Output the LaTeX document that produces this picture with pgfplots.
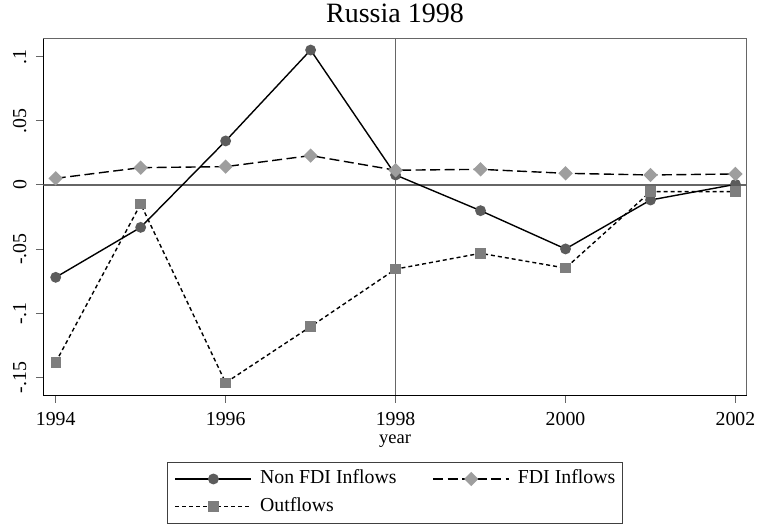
\documentclass[border=0pt]{standalone}
\usepackage{fontspec}
\setmainfont{Liberation Serif}
\usepackage{pgfplots}
\pgfplotsset{compat=1.18}
\definecolor{c1}{HTML}{5C5C5C}
\definecolor{c2}{HTML}{9E9E9E}
\definecolor{c3}{HTML}{7E7E7E}
\definecolor{refgray}{HTML}{666666}
\newcommand{\fs}{\fontsize{19.8bp}{19.8bp}\selectfont}
\begin{document}
\begin{tikzpicture}
\path[use as bounding box] (0,0) rectangle (759bp,528bp);
\begin{axis}[
  at={(43.3bp,133bp)}, anchor=south west,
  scale only axis, width=703.4bp, height=356.7bp,
  xmin=1993.854, xmax=2002.132, ymin=-0.16355, ymax=0.11425,
  axis x line=bottom, axis y line=left,
  axis line style={-, black, line width=1bp},
  tick align=outside, major tick length=7.5bp,
  tick style={refgray, line width=1bp},
  xtick={1994,1996,1998,2000,2002},
  xticklabels={1994,1996,1998,2000,2002},
  ytick={-0.15,-0.1,-0.05,0,0.05,0.1},
  yticklabels={-.15,-.1,-.05,0,.05,.1},
  xticklabel style={font=\fs, anchor=base, inner sep=0pt, yshift=-22.5bp},
  yticklabel style={font=\fs, xshift=-9.1bp, rotate=90, anchor=south, inner sep=0pt},
  title={Russia 1998},
  title style={at={(axis description cs:0.5,1)}, anchor=base, yshift=10.3bp, font=\fontsize{28bp}{28bp}\selectfont, inner sep=0pt},
  xlabel={year},
  xlabel style={at={(axis description cs:0.5,0)}, anchor=base, yshift=-48bp, font=\fontsize{18.5bp}{18.5bp}\selectfont, inner sep=0pt},
  legend columns=2,
  legend image code/.code={\draw[mark repeat=2,mark phase=2,#1] plot coordinates {(0bp,0bp) (38bp,0bp) (76bp,0bp)};},
  legend style={at={(axis description cs:0.5,-0.1878)}, anchor=north,
    draw=black!75, line width=1bp, inner xsep=7bp, inner ysep=8bp,
    font=\fs,
    nodes={inner sep=0pt, text height=13bp, text depth=4bp, anchor=west},
    /tikz/every odd column/.append style={column sep=8bp},
    /tikz/every even column/.append style={column sep=36bp},
    row sep=10.7bp},
  after end axis/.code={\draw[refgray, line width=1bp] (rel axis cs:0,1) -- (rel axis cs:1,1) -- (rel axis cs:1,0);},
]
\addplot[refgray, line width=1.5bp, forget plot] coordinates {(1993.854,0) (2002.132,0)};
\addplot[refgray, line width=1.5bp, forget plot] coordinates {(1998,-0.16355) (1998,0.11425)};

\addplot[black, line width=1.4bp, mark=*, mark size=4.7bp, mark options={solid, fill=c1, draw=c1}] coordinates {
(1994,-0.0719) (1995,-0.0330) (1996,0.0343) (1997,0.1051) (1998,0.0078)
(1999,-0.0200) (2000,-0.0498) (2001,-0.0117) (2002,0.0005)};
\addlegendentry{Non FDI Inflows}

\addplot[black, line width=1.4bp, dash pattern=on 10bp off 4.5bp, mark=square*, mark size=4.4bp, mark options={solid, rotate=45, fill=c2, draw=c2}] coordinates {
(1994,0.0052) (1995,0.0135) (1996,0.0143) (1997,0.0229) (1998,0.0115)
(1999,0.0122) (2000,0.0091) (2001,0.0078) (2002,0.0086)};
\addlegendentry{FDI Inflows}

\addplot[black, line width=1.4bp, dash pattern=on 4bp off 3bp, mark=square*, mark size=4.5bp, mark options={solid, fill=c3, draw=c3}] coordinates {
(1994,-0.1381) (1995,-0.0148) (1996,-0.1540) (1997,-0.1103) (1998,-0.0655)
(1999,-0.0532) (2000,-0.0647) (2001,-0.0052) (2002,-0.0052)};
\addlegendentry{Outflows}
\end{axis}
\end{tikzpicture}
\end{document}
